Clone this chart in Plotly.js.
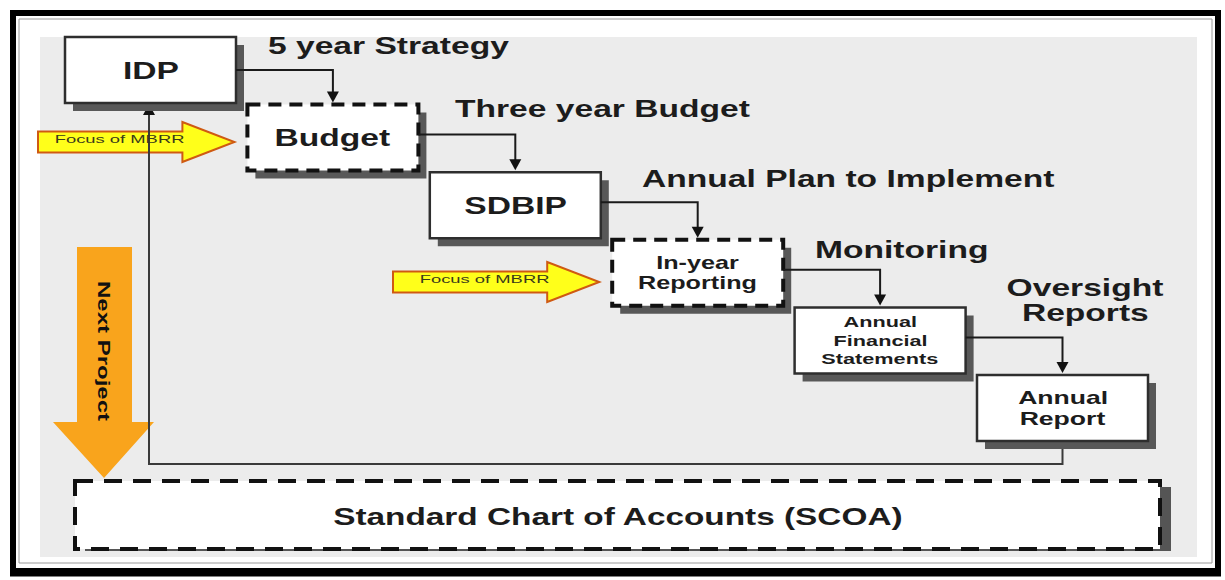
<!DOCTYPE html>
<html>
<head>
<meta charset="utf-8">
<script src="https://cdn.plot.ly/plotly-3.0.1.min.js"></script>
<style>html,body{margin:0;padding:0;background:#fff;}#chart{width:1225px;height:580px;}</style>
</head>
<body>
<div id="chart"></div>
<script>
// ---------- content (text only) ----------
const boxLabels = ["IDP", "Budget", "SDBIP", "In-year<br>Reporting", "Annual<br>Financial<br>Statements", "Annual<br>Report"];
const stageLabels = ["5 year Strategy", "Three year Budget", "Annual Plan to Implement", "Monitoring", "Oversight<br>Reports"];
const focusLabel = "Focus of MBRR";
const focusTargets = [1, 3];          // boxes pointed at by the "Focus of MBRR" arrows
const nextProjectLabel = "Next Project";
const footerLabel = "Standard Chart of Accounts (SCOA)";

// ---------- layout geometry (pixels, staircase) ----------
const G = {
  x0: 65, y0: 37, stepX: 182.4, stepY: 67.6, w: 171, h: 66,
  shadow: 8,
  panel: [40, 37, 1197, 557],
  footer: [75, 481, 1160, 549],
  loopY: 464, loopX: 149,
  orange: {x0: 77, x1: 132, top: 247, headY: 422, headL: 53, headR: 154, tipX: 104, tipY: 478},
  focusY: [142, 282], focusStart: [38, 393]
};
const FONT = '"Liberation Sans", Arial, sans-serif';
const TXT = '#1c1c1c';
const STRETCH = 1.4;                       // the original artwork is horizontally stretched
const boxFont = [24, 24, 24, 18, 15.5, 19];
const boxGap = [0, 0, 0, 20, 18.5, 21];
const dashedBoxes = [1, 3];
const stageAnchor = [[266, 45, 'left'], [453, 108, 'left'], [640, 178, 'left'], [813, 249, 'left'], [1085, 300, 'center']];
const stageGap = 25;

function boxRect(i) {
  const x0 = G.x0 + i * G.stepX, y0 = G.y0 + i * G.stepY;
  return {x0: x0, y0: y0, x1: x0 + G.w, y1: y0 + G.h, cx: x0 + G.w / 2, cy: y0 + G.h / 2};
}
function rect(x0, y0, x1, y1, fill, line) {
  return {type: 'rect', xref: 'x', yref: 'y', x0: x0, y0: y0, x1: x1, y1: y1,
    fillcolor: fill || 'rgba(0,0,0,0)', line: line || {width: 0}};
}
function path(d, fill, line) {
  return {type: 'path', xref: 'x', yref: 'y', path: d, fillcolor: fill || 'rgba(0,0,0,0)', line: line || {width: 0}};
}
function arrowHead(x, y, dir) { // tip at (x,y)
  const s = dir === 'down' ? -1 : 1;
  return path(`M${x - 6},${y + s * 11} L${x + 6},${y + s * 11} L${x},${y} Z`, '#111', {width: 0});
}

const shapes = [];
const annotations = [];
const stretch = [];
function addAnn(a, sx) { annotations.push(a); stretch.push(sx || STRETCH); }
function addLines(label, x, cy, gap, base, sx) {
  const lines = label.split('<br>');
  lines.forEach((ln, k) => {
    const a = JSON.parse(JSON.stringify(base));
    a.x = x; a.y = cy + (k - (lines.length - 1) / 2) * gap; a.text = ln;
    addAnn(a, sx);
  });
}

// background panel & frame
const P = G.panel;
shapes.push(rect(P[0], P[1], P[2], P[3], '#ececec'));
shapes.push(rect(19, 19, 1212, 563, null, {color: '#9a9a9a', width: 1}));
shapes.push(rect(13, 13, 1218, 571, null, {color: '#000', width: 6}));
shapes.push(path('M10,575 L1221,575', null, {color: '#000', width: 3}));

// Focus of MBRR arrows
focusTargets.forEach((t, k) => {
  const b = boxRect(t);
  const tip = b.x0 - 13, hs = tip - 52, yc = G.focusY[k], xs = G.focusStart[k];
  shapes.push(path(`M${xs},${yc - 10.5} L${hs},${yc - 10.5} L${hs},${yc - 20} L${tip},${yc} L${hs},${yc + 20} L${hs},${yc + 10.5} L${xs},${yc + 10.5} Z`,
    '#ffff1a', {color: '#cf5a12', width: 2}));
  addAnn({x: hs - 63, y: yc - 3, text: focusLabel, font: {size: 11.5, color: '#3a3a1a'}}, 1.6);
});

// Next project orange arrow
const O = G.orange;
shapes.push(path(`M${O.x0},${O.top} L${O.x1},${O.top} L${O.x1},${O.headY} L${O.headR},${O.headY} L${O.tipX},${O.tipY} L${O.headL},${O.headY} L${O.x0},${O.headY} Z`,
  '#f9a41c', {width: 0}));
addAnn({x: (O.x0 + O.x1) / 2 - 1, y: 351, text: nextProjectLabel, textangle: 90,
  font: {size: 16, color: '#111', weight: 700}}, 1.5);

// Feedback loop line
const last = boxRect(boxLabels.length - 1), first = boxRect(0);
shapes.push(path(`M${last.cx},${last.y1} L${last.cx},${G.loopY} L${G.loopX},${G.loopY} L${G.loopX},${first.y1 + 10}`,
  null, {color: '#3a3a3a', width: 2}));
shapes.push(arrowHead(G.loopX, first.y1 + 1, 'up'));

// Footer box
const F = G.footer;
shapes.push(rect(F[0] + 10, F[1] + 6, F[2] + 11, F[3] + 2, '#555'));
shapes.push(rect(F[0], F[1], F[2], F[3], '#ffffff', {color: '#111', width: 4, dash: '18px,11px'}));
addAnn({x: (F[0] + F[2]) / 2, y: (F[1] + F[3]) / 2 + 1, text: footerLabel,
  font: {size: 24, color: TXT, weight: 700}}, 1.39);

// Process boxes
boxLabels.forEach((lab, i) => {
  const b = boxRect(i);
  shapes.push(rect(b.x0 + G.shadow, b.y0 + G.shadow, b.x1 + G.shadow, b.y1 + G.shadow, '#585858'));
  const dashed = dashedBoxes.indexOf(i) >= 0;
  shapes.push(rect(b.x0, b.y0, b.x1, b.y1, '#ffffff',
    dashed ? {color: '#111', width: 4, dash: '13px,8px'} : {color: '#2e2e2e', width: 2.5}));
  addLines(lab, b.cx, b.cy, boxGap[i], {font: {size: boxFont[i], color: TXT, weight: 700}});
});

// Connectors between consecutive boxes
for (let i = 0; i < boxLabels.length - 1; i++) {
  const a = boxRect(i), b = boxRect(i + 1);
  const y = a.cy - (i === 0 ? 0 : 3);
  shapes.push(path(`M${a.x1},${y} L${b.cx},${y} L${b.cx},${b.y0 - 10}`, null, {color: '#1a1a1a', width: 2}));
  shapes.push(arrowHead(b.cx, b.y0 - 2, 'down'));
}

// Stage labels
stageLabels.forEach((lab, i) => {
  const s = stageAnchor[i];
  addLines(lab, s[0], s[1], stageGap, {xanchor: s[2], align: s[2], font: {size: 24, color: TXT, weight: 700}});
});

annotations.forEach(a => {
  a.showarrow = false; a.xref = 'x'; a.yref = 'y';
  if (!a.xanchor) a.xanchor = 'center';
  a.yanchor = 'middle';
  a.font.family = FONT;
});

const layout = {
  width: 1225, height: 580,
  margin: {l: 0, r: 0, t: 0, b: 0},
  paper_bgcolor: '#ffffff', plot_bgcolor: '#ffffff',
  xaxis: {range: [0, 1225], visible: false, fixedrange: true},
  yaxis: {range: [580, 0], visible: false, fixedrange: true},
  showlegend: false,
  shapes: shapes,
  annotations: annotations
};
const data = [{type: 'scatter', x: [], y: [], mode: 'markers', hoverinfo: 'skip'}];

// horizontal stretch of each label about its anchor (left edge or centre)
Plotly.newPlot('chart', data, layout, {staticPlot: true, displayModeBar: false}).then(gd => {
  gd.querySelectorAll('g.annotation').forEach(g => {
    const i = +g.getAttribute('data-index');
    const sx = stretch[i], a = annotations[i];
    const t = g.querySelector('text');
    if (!t || !sx) return;
    const bb = t.getBBox();
    const ax = a.xanchor === 'left' ? bb.x : bb.x + bb.width / 2;
    const prev = t.getAttribute('transform') || '';
    t.setAttribute('transform', `${prev} translate(${ax},0) scale(${sx},1) translate(${-ax},0)`);
  });
});
</script>
</body>
</html>
